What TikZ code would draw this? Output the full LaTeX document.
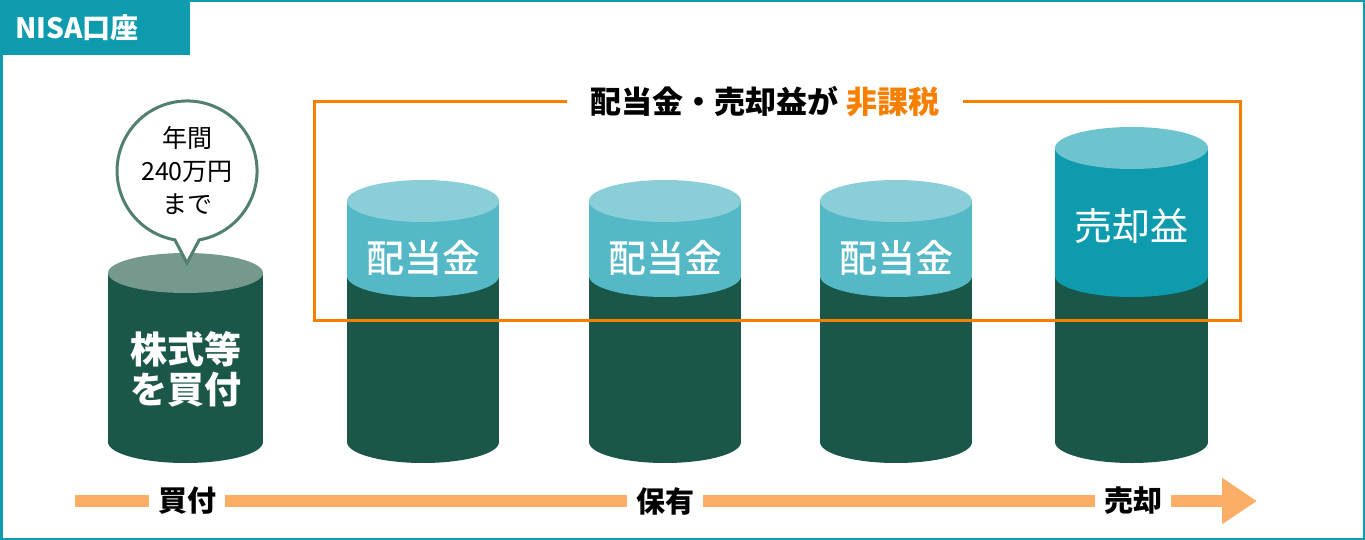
\documentclass[tikz,border=0pt]{standalone}
\usepackage{fontspec}
\setmainfont{Noto Sans CJK JP}
\newfontfamily\jpmedium{Noto Sans CJK JP Medium}
\usepackage{xcolor}
\definecolor{Nisa Teal}{HTML}{0E9BAD}
\definecolor{Deep Green}{HTML}{1B5749}
\definecolor{Sage}{HTML}{75998D}
\definecolor{Bubble Line}{HTML}{517F72}
\definecolor{Sky Band}{HTML}{55B8C6}
\definecolor{Sky Top}{HTML}{8ACFD8}
\definecolor{Teal Top}{HTML}{6DC3CE}
\definecolor{Tax Orange}{HTML}{F77F00}
\definecolor{Flow Orange}{HTML}{FDAE66}
\colorlet{cTeal}{Nisa Teal}
\colorlet{cDark}{Deep Green}
\colorlet{cOrange}{Tax Orange}
\usepackage{tikz}
\usetikzlibrary{arrows.meta, positioning}
\tikzset{
	x=1pt, y=-1pt,
	line width=.75pt,
	cyltext/.style={
		text=white,
		inner sep=0pt,
		font=\fontsize{37}{40}\selectfont\bfseries
	},
	bubble/.style={
		draw=Bubble Line,
		fill=white,
		line width=3pt,
		line join=miter
	},
	taxframe/.style={
		draw=cOrange,
		line width=3pt
	},
	title/.style={
		inner xsep=24pt,
		font=\fontsize{31}{31}\selectfont\bfseries
	},
	steplabel/.style={
		inner xsep=9pt,
		font=\fontsize{29}{29}\selectfont\bfseries
	},
	flow/.style={
		draw=Flow Orange,
		line width=12pt
	}
}

\begin{document}
\begin{tikzpicture}
        \useasboundingbox (0,0) rectangle (1365,540);
        % account frame and tab
        \draw[cTeal, line width=2.5pt] (1.25,1.25) rectangle (1363.75,538.75);
        \fill[cTeal] (0,0) rectangle (190,55);
        \node[text=white, font=\fontsize{28}{28}\selectfont\bfseries] (tab) at (77,28) {NISA口座};

        % purchase
        \fill[cDark] (108,273) rectangle (263,442);
        \fill[cDark] (185.5,442) ellipse[x radius=77.5, y radius=21];
        \fill[Sage] (185.5,273) ellipse[x radius=77.5, y radius=20];
        \node[cyltext, align=center] (buy text) at (185.5,369) {株式等\\を買付};
        \coordinate (tip) at (187,263);
        \draw[bubble] (tip) -- (199.2,239.9) arc[start angle=80, end angle=-260, radius=70] -- cycle;
        \node[align=center, font=\fontsize{25}{33}\selectfont] (limit) at (187,171) {年間\\240万円\\まで};

        % dividends
        \foreach \cx in {423,665,896} {
            \fill[cDark] (\cx-76,276) rectangle (\cx+76,442);
            \fill[cDark] (\cx,442) ellipse[x radius=76, y radius=21];
            \fill[Sky Band] (\cx-76,201) rectangle (\cx+76,276);
            \fill[Sky Band] (\cx,276) ellipse[x radius=76, y radius=21];
            \fill[Sky Top] (\cx,201) ellipse[x radius=76, y radius=21];
            \node[cyltext, font=\fontsize{38}{38}\selectfont\jpmedium] (div\cx) at (\cx,258) {配当金};
        }

        % sale
        \fill[cDark] (1055,276) rectangle (1208,442);
        \fill[cDark] (1131.5,442) ellipse[x radius=76.5, y radius=21];
        \fill[cTeal] (1055,148) rectangle (1208,276);
        \fill[cTeal] (1131.5,276) ellipse[x radius=76.5, y radius=21];
        \fill[Teal Top] (1131.5,148) ellipse[x radius=76.5, y radius=21];
        \node[cyltext, font=\fontsize{38}{38}\selectfont] (gain) at (1131.5,226) {売却益};

        % tax free box
        \node[title] (title) at (765,102) {配当金・売却益が \textcolor{cOrange}{非課税}};
        \draw[taxframe] (title.east) -| (1240,320) -| (314,102) -- (title.west);

        % time line
        \coordinate (flow start) at (75,501);
        \coordinate (flow end) at (1257,501);
        \node[steplabel] (buy) at (187,501) {買付};
        \node[steplabel] (hold) at (665,501) {保有};
        \node[steplabel] (sell) at (1133,501) {売却};
        \draw[flow] (flow start) -- (buy.west)
            (buy.east) -- (hold.west)
            (hold.east) -- (sell.west);
        \draw[flow, -{Triangle[width=44pt, length=35pt]}] (sell.east) -- (flow end);
    \end{tikzpicture}
\end{document}
